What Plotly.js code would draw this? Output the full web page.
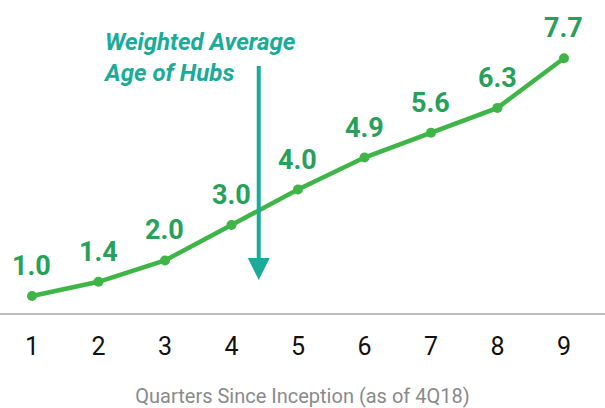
<!DOCTYPE html>
<html><head><meta charset="utf-8">
<script src="https://cdn.plot.ly/plotly-3.0.1.min.js"></script>
<style>html,body{margin:0;padding:0;background:#fff;}#chart{width:605px;height:408px;}</style>
</head><body><div id="chart"></div>
<script>
const quarters = [1, 2, 3, 4, 5, 6, 7, 8, 9];
const avgAge = [1.0, 1.4, 2.0, 3.0, 4.0, 4.9, 5.6, 6.3, 7.7];
const labels = ["1.0", "1.4", "2.0", "3.0", "4.0", "4.9", "5.6", "6.3", "7.7"];
const tickLabels = ["1", "2", "3", "4", "5", "6", "7", "8", "9"];

const lineColor = "#3fb548";
const labelColor = "#27a15a";
const teal = "#1aab99";

const annotations = quarters.map((q, i) => ({
  x: q, y: avgAge[i], text: labels[i], showarrow: false,
  xref: "x", yref: "y", yanchor: "middle", yshift: 30,
  font: {family: "Roboto, sans-serif", size: 27, color: labelColor, weight: 700}
}));
annotations.push({
  x: 4.41, y: 1.45, ax: 4.41, ay: 7.52, axref: "x", ayref: "y", xref: "x", yref: "y",
  showarrow: true, arrowhead: 2, arrowsize: 1.1, arrowwidth: 4, arrowcolor: teal, text: ""
});
annotations.push({
  xref: "paper", yref: "paper", x: 101/605, y: 1 - 57/313, xanchor: "left", yanchor: "middle",
  align: "left", showarrow: false,
  text: "<i><b>Weighted Average</b></i><br><i><b>Age of Hubs</b></i>",
  font: {family: "Roboto, sans-serif", size: 24, color: teal}
});

Plotly.newPlot("chart", [{
  x: quarters, y: avgAge, mode: "lines+markers", type: "scatter",
  line: {color: lineColor, width: 4.5},
  marker: {color: lineColor, size: 10},
  hoverinfo: "none"
}], {
  width: 605, height: 408,
  margin: {l: 0, r: 0, t: 0, b: 95},
  paper_bgcolor: "#fff", plot_bgcolor: "#fff",
  showlegend: false,
  xaxis: {
    range: [0.519, 9.617], tickvals: quarters, ticktext: tickLabels,
    showgrid: false, zeroline: false, showline: true, linecolor: "#bdbdbd", linewidth: 2,
    ticks: "outside", ticklen: 10, tickcolor: "rgba(0,0,0,0)",
    tickfont: {family: "Roboto, sans-serif", size: 25, color: "#111"},
    title: {text: "Quarters Since Inception (as of 4Q18)", standoff: 32,
      font: {family: "Roboto, sans-serif", size: 20, color: "#8a8a8a"}}
  },
  yaxis: {range: [0.52, 9.34], visible: false, showgrid: false, zeroline: false},
  annotations: annotations
}, {displayModeBar: false, staticPlot: true});
</script></body></html>
